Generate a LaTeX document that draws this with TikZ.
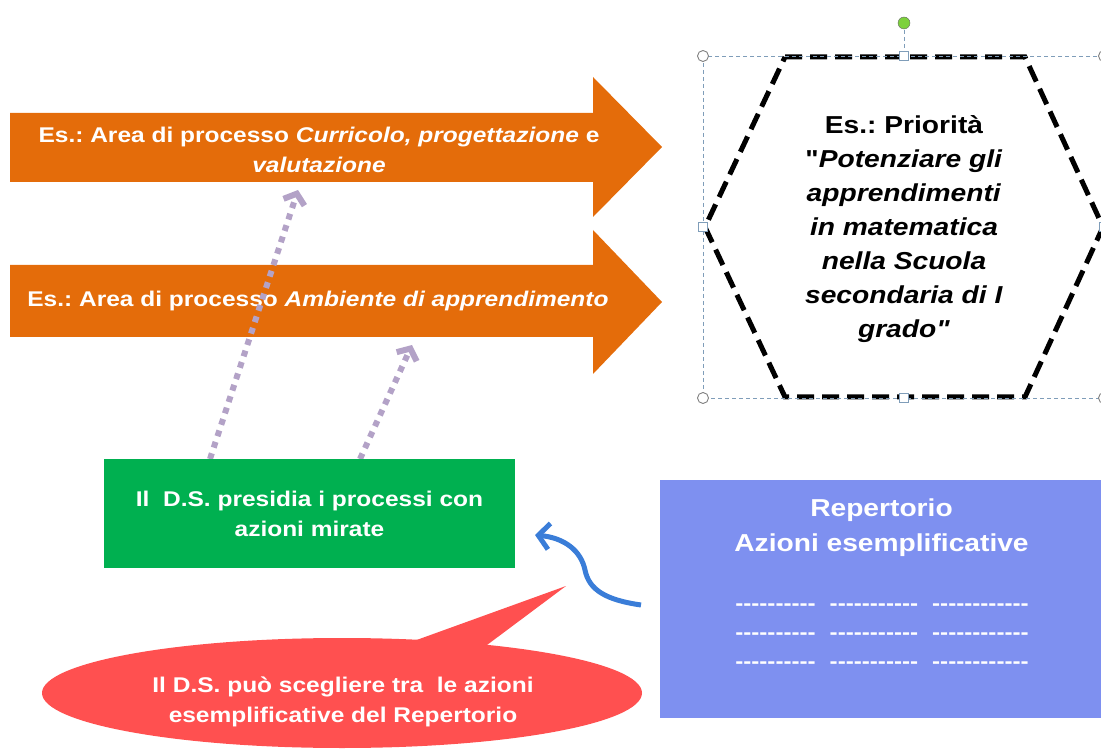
\documentclass[tikz,border=0pt]{standalone}
\usepackage{fontspec}
\setmainfont{Liberation Sans}[FakeStretch=1.15, Ligatures=TeXOff]
\usetikzlibrary{arrows.meta,shapes.geometric}
\definecolor{orangeA}{HTML}{E46C0A}
\definecolor{greenA}{HTML}{00B050}
\definecolor{blueBox}{HTML}{7E90F0}
\definecolor{redA}{HTML}{FF5050}
\definecolor{lav}{HTML}{B3A2C7}
\definecolor{blueArr}{HTML}{3A7DD8}
\definecolor{selc}{HTML}{7F9DB9}
\definecolor{rotg}{HTML}{7DD13C}
\newcommand\hy{-\kern0pt}
\frenchspacing
\begin{document}
\begin{tikzpicture}[x=1pt,y=-1pt,
  lbl/.style={text=white, font=\bfseries\fontsize{21.3}{30}\selectfont, align=center, inner sep=0pt},
  dotarrow/.style={draw=lav, line width=6pt, dash pattern=on 6pt off 6pt, -{Straight Barb[length=9pt,width=22pt]}},
  hexline/.style={draw=black, line width=5pt, dash pattern=on 17pt off 8pt, line join=miter},
  selline/.style={draw=selc, line width=0.9pt, dash pattern=on 4pt off 3pt},
  cornerhandle/.style={circle, draw=gray, fill=white, line width=0.9pt, minimum size=11pt, inner sep=0pt},
  sidehandle/.style={rectangle, draw=selc, fill=white, line width=0.9pt, minimum size=9pt, inner sep=0pt},
  dashrow/.style={text=white, font=\bfseries\fontsize{21}{29}\selectfont, inner sep=0pt}
]
\useasboundingbox (0,0) rectangle (1101,751);
\clip (0,0) rectangle (1101,751);

% orange arrows
\fill[orangeA] (10,113) -- (593,113) -- (593,77) -- (662,147) -- (593,217) -- (593,182) -- (10,182) -- cycle;
\node[lbl] (area1) at (319,150) {Es.: Area di processo \textit{Curricolo, progettazione} e\\ \textit{valutazione}};
\fill[orangeA] (10,265) -- (593,265) -- (593,230) -- (662,302) -- (593,374) -- (593,337) -- (10,337) -- cycle;
\node[lbl] (area2) at (318,301) {Es.: Area di processo \textit{Ambiente di apprendimento}};

% dotted arrows
\coordinate (a1s) at (210,459);
\coordinate (a1e) at (298,190);
\coordinate (a2s) at (360,459);
\coordinate (a2e) at (412,345);
\draw[dotarrow] (a1s) -- (a1e);
\draw[dotarrow] (a2s) -- (a2e);

% hexagon
\draw[hexline] (785,57) -- (1025,57) -- (1103,227) -- (1025,397) -- (785,397) -- (705,227) -- cycle;
\node[align=center, inner sep=0pt, font=\bfseries\fontsize{24.5}{34}\selectfont] (prio) at (904,229)
 {Es.: Priorità\\ "\textit{Potenziare gli}\\ \textit{apprendimenti}\\ \textit{in matematica}\\ \textit{nella Scuola}\\ \textit{secondaria di I}\\ \textit{grado"}};

% selection frame
\draw[selline] (703,56) rectangle (1104,398);
\coordinate (rot) at (904,23);
\draw[selline] (rot) -- (904,56);
\node[circle, draw=gray!80!black, fill=rotg, minimum size=12pt, inner sep=0pt] (roth) at (rot) {};
\node[cornerhandle] (h1) at (703,56) {};
\node[cornerhandle] (h2) at (703,398) {};
\node[cornerhandle] (h3) at (1104,56) {};
\node[cornerhandle] (h4) at (1104,398) {};
\node[sidehandle] (h5) at (904,56) {};
\node[sidehandle] (h6) at (904,398) {};
\node[sidehandle] (h7) at (703,227) {};
\node[sidehandle] (h8) at (1104,227) {};

% green box
\node[fill=greenA, minimum width=411pt, minimum height=109pt, lbl] (ds) at (309.5,513.5)
 {Il\ \ D.S. presidia i processi con\\ azioni mirate};

% blue box
\node[fill=blueBox, minimum width=443pt, minimum height=238pt, inner sep=0pt] (rep) at (881.5,599) {};
\node[text=white, font=\bfseries\fontsize{24.5}{35}\selectfont, align=center, inner sep=0pt] (reptitle) at (881.5,528)
 {Repertorio\\ Azioni esemplificative};
\node[dashrow] (r1) at (882,607) {\hy\hy\hy\hy\hy\hy\hy\hy\hy\hy\hspace{14pt}\hy\hy\hy\hy\hy\hy\hy\hy\hy\hy\hy\hspace{14pt}\hy\hy\hy\hy\hy\hy\hy\hy\hy\hy\hy\hy};
\node[dashrow] (r2) at (882,636) {\hy\hy\hy\hy\hy\hy\hy\hy\hy\hy\hspace{14pt}\hy\hy\hy\hy\hy\hy\hy\hy\hy\hy\hy\hspace{14pt}\hy\hy\hy\hy\hy\hy\hy\hy\hy\hy\hy\hy};
\node[dashrow] (r3) at (882,665) {\hy\hy\hy\hy\hy\hy\hy\hy\hy\hy\hspace{14pt}\hy\hy\hy\hy\hy\hy\hy\hy\hy\hy\hy\hspace{14pt}\hy\hy\hy\hy\hy\hy\hy\hy\hy\hy\hy\hy};

% blue curved arrow
\coordinate (bs) at (641,605);
\coordinate (be) at (535,535);
\draw[blueArr, line width=5pt, -{Straight Barb[length=11pt,width=26pt]}]
  (bs) .. controls (606,600) and (589,590) .. (585,570) .. controls (581,551) and (565,538) .. (be);

% red callout
\node[ellipse, fill=redA, minimum width=600pt, minimum height=110pt, inner sep=0pt] (call) at (342,693) {};
\coordinate (tip) at (566,586);
\fill[redA] (400,646) -- (tip) -- (479,651) -- cycle;
\node[lbl] (calltext) at (343,702) {Il D.S. può scegliere tra\ \ le azioni\\ esemplificative del Repertorio};
\end{tikzpicture}
\end{document}
